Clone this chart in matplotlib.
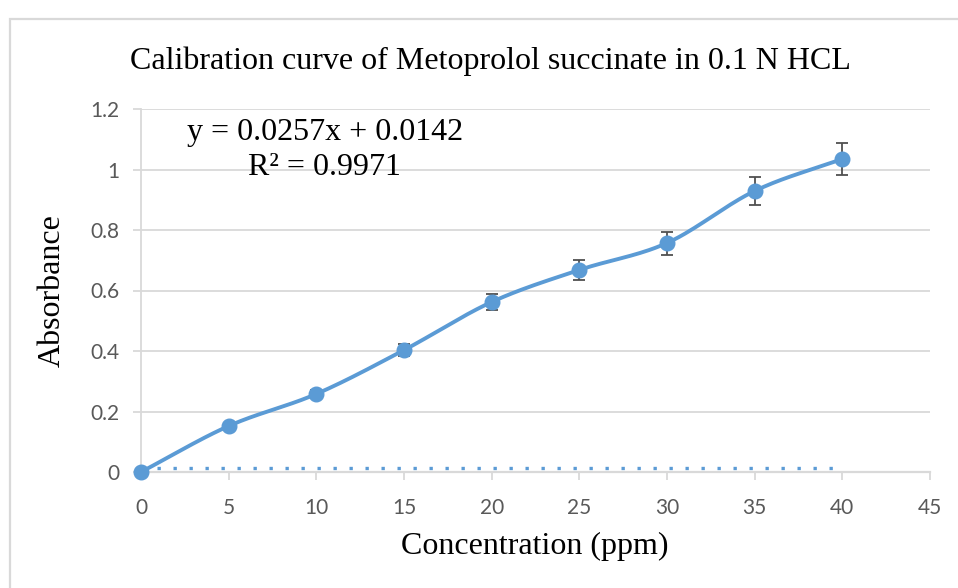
import numpy as np
import matplotlib.pyplot as plt
from matplotlib.patches import Rectangle

# calibration data
conc = [0, 5, 10, 15, 20, 25, 30, 35, 40]
absorb = [0.0, 0.152, 0.258, 0.403, 0.562, 0.668, 0.757, 0.929, 1.035]
err = [0.0, 0.008, 0.013, 0.020, 0.028, 0.033, 0.038, 0.046, 0.052]
slope = 0.0257
intercept = 0.0142
r2 = 0.9971
xticks = [0, 5, 10, 15, 20, 25, 30, 35, 40, 45]
yticks = [0, 0.2, 0.4, 0.6, 0.8, 1.0, 1.2]
ytick_labels = ['0', '0.2', '0.4', '0.6', '0.8', '1', '1.2']

BLUE = '#5B9BD5'
GRID = '#d9d9d9'
TICK = '#595959'
SERIF = 'Liberation Serif'


def smooth(x, y, n=30):
    """Catmull-Rom curve through the points, like a smoothed line."""
    p = np.column_stack([x, y]).astype(float)
    p = np.vstack([p[0] * 2 - p[1], p, p[-1] * 2 - p[-2]])
    out = []
    t = np.linspace(0, 1, n)[:, None]
    for i in range(1, len(p) - 2):
        p0, p1, p2, p3 = p[i - 1], p[i], p[i + 1], p[i + 2]
        seg = 0.5 * ((2 * p1) + (-p0 + p2) * t
                     + (2 * p0 - 5 * p1 + 4 * p2 - p3) * t ** 2
                     + (-p0 + 3 * p1 - 3 * p2 + p3) * t ** 3)
        out.append(seg if i == 1 else seg[1:])
    out = np.vstack(out)
    return out[:, 0], out[:, 1]


fig = plt.figure(figsize=(9.58, 5.88), dpi=100)
fig.patches.append(Rectangle((10 / 958, -0.05), 1.0, 1 - 19 / 588 + 0.05,
                             transform=fig.transFigure, fill=False,
                             edgecolor=GRID, linewidth=1.6))

ax = fig.add_axes([141 / 958, 1 - 472 / 588, 789 / 958, 363 / 588])
ax.set_xlim(0, 45)
ax.set_ylim(0, 1.2)

for v in yticks[1:]:
    ax.axhline(v, color=GRID, lw=1.3, zorder=0)

sx, sy = smooth(conc, absorb)
ax.plot(sx, sy, color=BLUE, lw=2.8, zorder=3, solid_capstyle='round',
        clip_on=False)
ax.errorbar(conc, absorb, yerr=err, fmt='none', ecolor='#505050',
            elinewidth=1.3, capsize=4.3, capthick=1.3, zorder=4)
ax.plot(conc, absorb, 'o', color=BLUE, ms=10.5, zorder=5, clip_on=False)

# linear trendline
ax.plot([0, 40], [intercept, intercept], color=BLUE, lw=2.4,
        ls=(0, (1, 3.8)), dash_capstyle='butt', zorder=2, clip_on=False)

ax.text(10.47, 1.121, 'y = %.4fx + %.4f' % (slope, intercept),
        ha='center', va='center', fontsize=23, family=SERIF)
ax.text(10.47, 1.008, 'R² = %.4f' % r2, ha='center', va='center',
        fontsize=23, family=SERIF)

for s in ['top', 'right']:
    ax.spines[s].set_visible(False)
ax.spines['left'].set_color(GRID)
ax.spines['bottom'].set_color(GRID)
ax.spines['bottom'].set_linewidth(1.6)
ax.spines['left'].set_linewidth(1.3)

ax.set_xticks(xticks)
ax.set_yticks(yticks)
ax.set_yticklabels(ytick_labels)
ax.tick_params(axis='both', colors=GRID, labelcolor=TICK, labelsize=15,
               length=5.5, width=1.3)
ax.tick_params(axis='x', pad=13)
ax.tick_params(axis='y', pad=10)
for lab in ax.get_xticklabels() + ax.get_yticklabels():
    lab.set_family('Lato')

fig.text(490 / 958, 1 - 61 / 588, 'Calibration curve of Metoprolol succinate in 0.1 N HCL',
         ha='center', va='center', fontsize=23, family=SERIF)
fig.text(535 / 958, 1 - 546 / 588, 'Concentration (ppm)', ha='center',
         va='center', fontsize=23, family=SERIF)
fig.text(52 / 958, 1 - 291 / 588, 'Absorbance', ha='center', va='center',
         rotation=90, fontsize=23, family=SERIF)

fig.savefig('out.png', dpi=100)
